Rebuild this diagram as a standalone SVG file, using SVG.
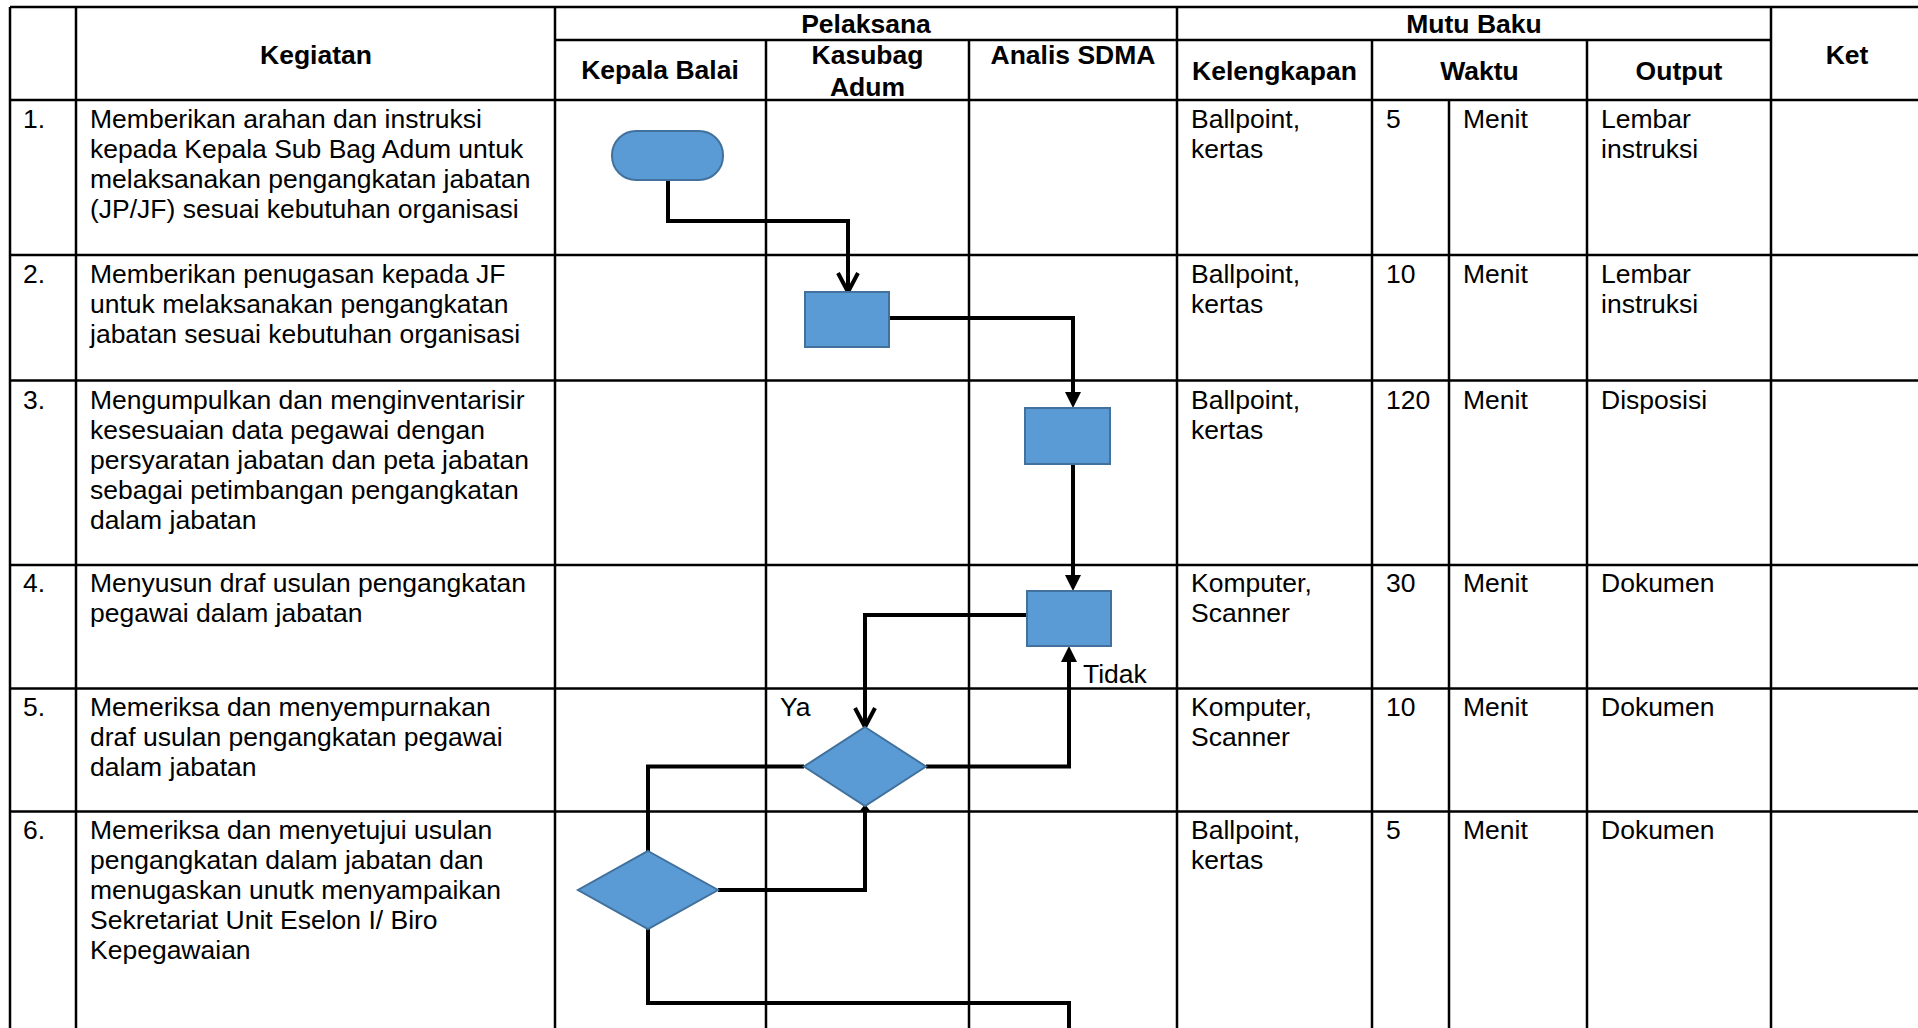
<svg xmlns="http://www.w3.org/2000/svg" width="1918" height="1028" viewBox="0 0 1918 1028">
<style>
.t{font-family:"Liberation Sans",Arial,sans-serif;font-size:26.5px;fill:#000}
.h{font-weight:bold;text-anchor:middle}
.grid line{stroke:#000;stroke-width:2.5}
.shape{fill:#5B9BD5;stroke:#41719C;stroke-width:2}
.conn{fill:none;stroke:#000;stroke-width:4;stroke-linejoin:miter;stroke-linecap:butt}
</style>
<defs>
<marker id="fill" markerUnits="userSpaceOnUse" viewBox="0 -9 17 18" refX="0" refY="0" markerWidth="17" markerHeight="18" orient="auto"><path d="M0,-8 L16,0 L0,8 Z" fill="#000"/></marker>
<marker id="small" markerUnits="userSpaceOnUse" viewBox="0 -7 9 14" refX="0" refY="0" markerWidth="9" markerHeight="14" orient="auto"><path d="M0,-6 L8,0 L0,6 Z" fill="#000"/></marker>
<marker id="open" markerUnits="userSpaceOnUse" viewBox="-24 -14 28 28" refX="0" refY="0" markerWidth="28" markerHeight="28" orient="auto"><path d="M-19,-10 L0,0 L-19,10" fill="none" stroke="#000" stroke-width="4"/></marker>
</defs>
<rect x="0" y="0" width="1918" height="1028" fill="#fff"/>
<g id="table" class="grid">
<line x1="10" y1="7" x2="1918" y2="7"/>
<line x1="555" y1="40" x2="1771" y2="40"/>
<line x1="10" y1="100" x2="1918" y2="100"/>
<line x1="10" y1="255" x2="1918" y2="255"/>
<line x1="10" y1="380.5" x2="1918" y2="380.5"/>
<line x1="10" y1="565" x2="1918" y2="565"/>
<line x1="10" y1="688.5" x2="1918" y2="688.5"/>
<line x1="10" y1="811.5" x2="1918" y2="811.5"/>
<line x1="10" y1="7" x2="10" y2="1028"/>
<line x1="76" y1="7" x2="76" y2="1028"/>
<line x1="555" y1="7" x2="555" y2="1028"/>
<line x1="766" y1="40" x2="766" y2="1028"/>
<line x1="969" y1="40" x2="969" y2="1028"/>
<line x1="1177" y1="7" x2="1177" y2="1028"/>
<line x1="1372" y1="40" x2="1372" y2="1028"/>
<line x1="1449" y1="100" x2="1449" y2="1028"/>
<line x1="1587" y1="40" x2="1587" y2="1028"/>
<line x1="1771" y1="7" x2="1771" y2="1028"/>
</g>
<g id="header" class="t h">
<text x="866" y="33">Pelaksana</text>
<text x="1474" y="33">Mutu Baku</text>
<text x="316" y="64">Kegiatan</text>
<text x="660" y="79">Kepala Balai</text>
<text x="867.5" y="64">Kasubag</text>
<text x="867.5" y="95.5">Adum</text>
<text x="1073" y="64">Analis SDMA</text>
<text x="1274.5" y="80">Kelengkapan</text>
<text x="1479.5" y="80">Waktu</text>
<text x="1679" y="80">Output</text>
<text x="1847" y="64">Ket</text>
</g>
<g id="rows" class="t">
<text x="23" y="128">1.</text>
<text y="128"><tspan x="90">Memberikan arahan dan instruksi</tspan><tspan x="90" dy="30">kepada Kepala Sub Bag Adum untuk</tspan><tspan x="90" dy="30">melaksanakan pengangkatan jabatan</tspan><tspan x="90" dy="30">(JP/JF) sesuai kebutuhan organisasi</tspan></text>
<text y="128"><tspan x="1191">Ballpoint,</tspan><tspan x="1191" dy="30">kertas</tspan></text>
<text x="1386" y="128">5</text>
<text x="1463" y="128">Menit</text>
<text y="128"><tspan x="1601">Lembar</tspan><tspan x="1601" dy="30">instruksi</tspan></text>

<text x="23" y="283">2.</text>
<text y="283"><tspan x="90">Memberikan penugasan kepada JF</tspan><tspan x="90" dy="30">untuk melaksanakan pengangkatan</tspan><tspan x="90" dy="30">jabatan sesuai kebutuhan organisasi</tspan></text>
<text y="283"><tspan x="1191">Ballpoint,</tspan><tspan x="1191" dy="30">kertas</tspan></text>
<text x="1386" y="283">10</text>
<text x="1463" y="283">Menit</text>
<text y="283"><tspan x="1601">Lembar</tspan><tspan x="1601" dy="30">instruksi</tspan></text>

<text x="23" y="408.5">3.</text>
<text y="408.5"><tspan x="90">Mengumpulkan dan menginventarisir</tspan><tspan x="90" dy="30">kesesuaian data pegawai dengan</tspan><tspan x="90" dy="30">persyaratan jabatan dan peta jabatan</tspan><tspan x="90" dy="30">sebagai petimbangan pengangkatan</tspan><tspan x="90" dy="30">dalam jabatan</tspan></text>
<text y="408.5"><tspan x="1191">Ballpoint,</tspan><tspan x="1191" dy="30">kertas</tspan></text>
<text x="1386" y="408.5">120</text>
<text x="1463" y="408.5">Menit</text>
<text x="1601" y="408.5">Disposisi</text>

<text x="23" y="592">4.</text>
<text y="592"><tspan x="90">Menyusun draf usulan pengangkatan</tspan><tspan x="90" dy="30">pegawai dalam jabatan</tspan></text>
<text y="592"><tspan x="1191">Komputer,</tspan><tspan x="1191" dy="30">Scanner</tspan></text>
<text x="1386" y="592">30</text>
<text x="1463" y="592">Menit</text>
<text x="1601" y="592">Dokumen</text>

<text x="23" y="716">5.</text>
<text y="716"><tspan x="90">Memeriksa dan menyempurnakan</tspan><tspan x="90" dy="30">draf usulan pengangkatan pegawai</tspan><tspan x="90" dy="30">dalam jabatan</tspan></text>
<text y="716"><tspan x="1191">Komputer,</tspan><tspan x="1191" dy="30">Scanner</tspan></text>
<text x="1386" y="716">10</text>
<text x="1463" y="716">Menit</text>
<text x="1601" y="716">Dokumen</text>

<text x="23" y="839">6.</text>
<text y="839"><tspan x="90">Memeriksa dan menyetujui usulan</tspan><tspan x="90" dy="30">pengangkatan dalam jabatan dan</tspan><tspan x="90" dy="30">menugaskan unutk menyampaikan</tspan><tspan x="90" dy="30">Sekretariat Unit Eselon I/ Biro</tspan><tspan x="90" dy="30">Kepegawaian</tspan></text>
<text y="839"><tspan x="1191">Ballpoint,</tspan><tspan x="1191" dy="30">kertas</tspan></text>
<text x="1386" y="839">5</text>
<text x="1463" y="839">Menit</text>
<text x="1601" y="839">Dokumen</text>
</g>
<g id="connectors">
<path class="conn" d="M668,180 V221 H848 V292" marker-end="url(#open)"/>
<path class="conn" d="M889,318 H1073 V392" marker-end="url(#fill)"/>
<path class="conn" d="M1073,464 V575" marker-end="url(#fill)"/>
<path class="conn" d="M1027,615 H865 V727" marker-end="url(#open)"/>
<path class="conn" d="M926,766.5 H1069 V662" marker-end="url(#fill)"/>
<path class="conn" d="M804,766.5 H648 V851"/>
<path class="conn" d="M718,890 H865 V812" marker-end="url(#small)"/>
<path class="conn" d="M648,929 V1003 H1069 V1030"/>
<text class="t" x="1083" y="683">Tidak</text>
<text class="t" x="780" y="716">Ya</text>
</g>
<g id="n1-start"><rect class="shape" x="612" y="131" width="111" height="49" rx="24" ry="24"/></g>
<g id="n2-kasubag"><rect class="shape" x="805" y="292" width="84" height="55"/></g>
<g id="n3-analis"><rect class="shape" x="1025" y="408" width="85" height="56"/></g>
<g id="n4-analis"><rect class="shape" x="1027" y="591" width="84" height="55"/></g>
<g id="d5-kasubag"><polygon class="shape" points="865,727 926,766.5 865,806 804,766.5"/></g>
<g id="d6-kepala"><polygon class="shape" points="648,851 718,890 648,929 578,890"/></g>
</svg>
